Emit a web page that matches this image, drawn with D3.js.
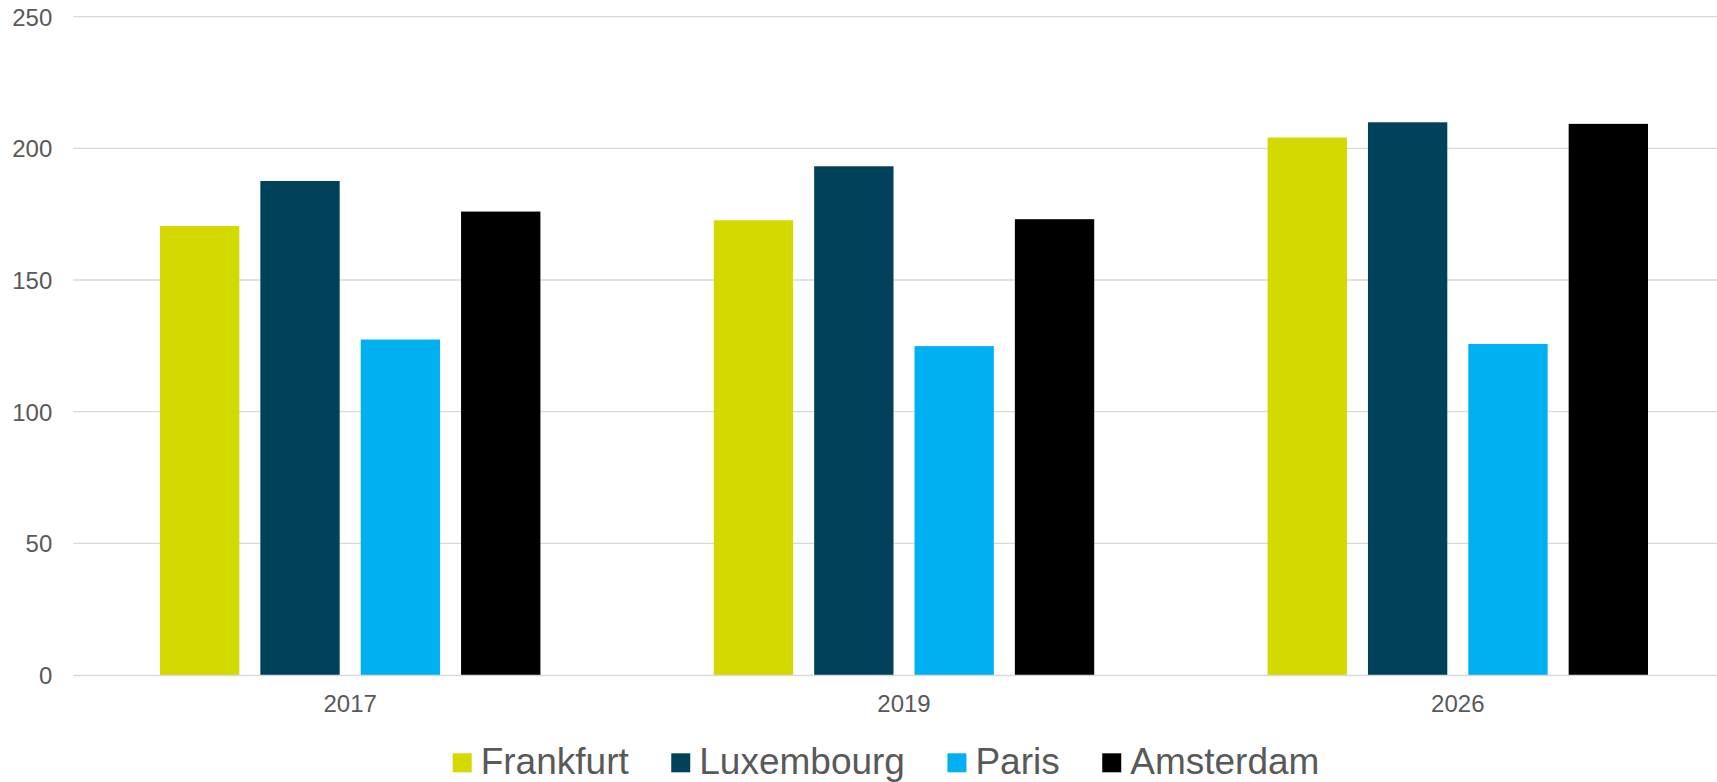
<!DOCTYPE html>
<html>
<head>
<meta charset="utf-8">
<script src="https://cdn.jsdelivr.net/npm/d3@7"></script>
<style>
  html, body { margin: 0; padding: 0; background: #fff; }
  svg { display: block; font-family: "Liberation Sans", Arial, sans-serif; }
</style>
</head>
<body>
<svg id="chart" width="1717" height="782"></svg>
<script>
const years = ["2017", "2019", "2026"];
const cities = ["Frankfurt", "Luxembourg", "Paris", "Amsterdam"];
const frankfurt = [170.5, 172.7, 204.1];
const luxembourg = [187.6, 193.2, 209.9];
const paris = [127.4, 124.9, 125.7];
const amsterdam = [176.0, 173.1, 209.3];
const yTicks = [0, 50, 100, 150, 200, 250];
const colors = ["#d4d900", "#004259", "#00b0f0", "#000000"];

const seriesValues = [frankfurt, luxembourg, paris, amsterdam];
const svg = d3.select("#chart");

const plotLeft = 73.3, plotRight = 1734.7, plotTop = 16.7, plotBottom = 675;

const y = d3.scaleLinear().domain([0, 250]).range([plotBottom, plotTop]);
const x0 = d3.scaleBand().domain(years).range([plotLeft, plotRight]).paddingInner(0).paddingOuter(0);
const groupPad = 86.7;
const x1 = d3.scaleBand().domain(cities)
  .range([groupPad, x0.bandwidth() - groupPad])
  .paddingInner(0.2094).paddingOuter(0);
const color = d3.scaleOrdinal().domain(cities).range(colors);

// gridlines
svg.append("g").selectAll("line").data(yTicks.filter(t => t > 0)).join("line")
  .attr("x1", plotLeft).attr("x2", plotRight)
  .attr("y1", d => y(d)).attr("y2", d => y(d))
  .attr("stroke", "#d9d9d9").attr("stroke-width", 1.3);

// y labels
const yAxis = d3.axisLeft(y).tickValues(yTicks).tickSize(0).tickPadding(21);
const gy = svg.append("g").attr("transform", `translate(${plotLeft},0)`).call(yAxis);
gy.select(".domain").remove();
gy.selectAll(".tick line").remove();
gy.selectAll(".tick text").attr("fill", "#595959").style("font-size", "24px")
  .attr("dy", "0.35em");

// bars
const data = years.map((yr, i) => ({ year: yr, vals: cities.map((c, j) => ({ city: c, value: seriesValues[j][i] })) }));
const groups = svg.append("g").selectAll("g").data(data).join("g")
  .attr("transform", d => `translate(${x0(d.year)},0)`);
groups.selectAll("rect").data(d => d.vals).join("rect")
  .attr("x", d => x1(d.city))
  .attr("width", x1.bandwidth())
  .attr("y", d => y(d.value))
  .attr("height", d => y(0) - y(d.value))
  .attr("fill", d => color(d.city));

// x axis
const xAxis = d3.axisBottom(x0).tickSize(0).tickPadding(20);
const gx = svg.append("g").attr("transform", `translate(0,${plotBottom})`).call(xAxis);
gx.select(".domain").attr("stroke", "#d9d9d9").attr("stroke-width", 1.3);
gx.selectAll(".tick text").attr("fill", "#595959").style("font-size", "24px")
  .attr("dy", "0.71em");

// legend
const legend = svg.append("g").attr("transform", "translate(452.7,0)");
let lx = 0;
cities.forEach((c, i) => {
  const g = legend.append("g").attr("transform", `translate(${lx},0)`);
  g.append("rect").attr("x", 0).attr("y", 753.3).attr("width", 19).attr("height", 19)
    .attr("fill", color(c));
  const t = g.append("text").attr("x", 28).attr("y", 774.3)
    .attr("fill", "#595959").style("font-size", "37px").text(c);
  lx += 28 + t.node().getComputedTextLength() + 42.5;
});
</script>
</body>
</html>
